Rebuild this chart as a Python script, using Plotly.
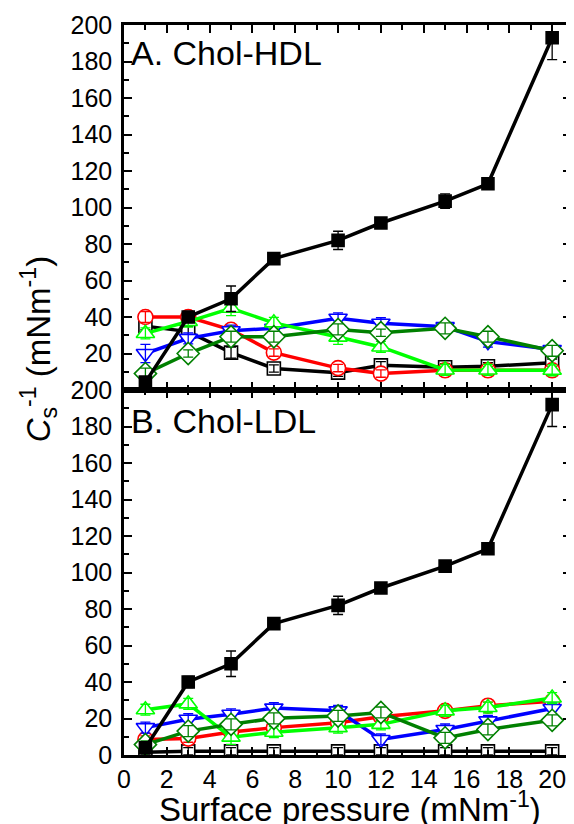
import plotly.graph_objects as go

pressure = [1, 3, 5, 7, 10, 12, 15, 17, 20]
x_ticks = [0, 2, 4, 6, 8, 10, 12, 14, 16, 18, 20]
y_ticks_top = [20, 40, 60, 80, 100, 120, 140, 160, 180, 200]
y_ticks_bottom = [0, 20, 40, 60, 80, 100, 120, 140, 160, 180, 200]

# Panel A: Chol-HDL
hdl_filled = [4.3, 40, 50, 72, 82, 91.5, 103.5, 113, 193]
hdl_filled_err = [2, 3, 7, 3, 5, 2, 4, 2, 12]
hdl_black = [35, 32, 20.5, 11.8, 9.5, 13.5, 12.5, 13, 15]
hdl_black_err = [2, 3, 3, 2, 2, 2, 2, 2, 2]
hdl_red = [40, 40, 33, 20.5, 12, 9, 10.8, 10.8, 10.8]
hdl_red_err = [3, 3, 2, 2, 2, 2, 2, 2, 2]
hdl_lime = [31, 37.5, 44.8, 36.8, 29, 23.6, 11, 11, 10.8]
hdl_lime_err = [3, 3, 4, 3, 4, 3, 3, 3, 3]
hdl_blue = [20, 28.3, 32.5, 33.8, 39.3, 36.6, 34.7, 26.5, 22.2]
hdl_blue_err = [5, 3, 3, 3, 3, 3, 2, 3, 2]
hdl_dkgreen = [9, 20, 29.2, 29.2, 33.2, 31.4, 33.8, 29.2, 21.5]
hdl_dkgreen_err = [3, 2, 3, 3, 3, 2, 3, 3, 3]

# Panel B: Chol-LDL
ldl_filled = [4, 40, 50, 72, 82, 91.5, 103.5, 113, 192]
ldl_filled_err = [2, 3, 7, 2, 5, 1, 3, 1, 12]
ldl_black = [1.5, 2, 2, 2, 2, 2, 2, 2, 2]
ldl_black_err = [1, 2, 2, 2, 2, 2, 2, 2, 2]
ldl_red = [8.5, 9, 12.6, 15, 17.7, 20.9, 24.2, 27, 29.4]
ldl_red_err = [2, 2, 2, 2, 2, 2, 2, 2, 2]
ldl_lime = [24.8, 28, 9.8, 12.5, 15, 16.8, 24.2, 26, 31.2]
ldl_lime_err = [3, 3, 4, 3, 3, 3, 3, 3, 3]
ldl_blue = [15, 19.6, 22.3, 25.7, 24.2, 8.5, 14, 18.7, 25.5]
ldl_blue_err = [3, 3, 3, 3, 3, 3, 3, 3, 3]
ldl_dkgreen = [5.7, 13.1, 16.8, 20.1, 21.4, 23.3, 9.4, 14, 19]
ldl_dkgreen_err = [2, 3, 3, 3, 3, 3, 3, 3, 3]

RED = "#FF0000"
LIME = "#00FF00"
BLUE = "#0000FF"
DKGREEN = "#008000"
BLACK = "#000000"

fig = go.Figure()


def add_series(y, err, color, symbol, size, xa, ya, filled=False):
    fig.add_trace(go.Scatter(
        x=pressure, y=y, mode="lines+markers", xaxis=xa, yaxis=ya,
        line=dict(color=color, width=3.5),
        marker=dict(symbol=symbol, size=size,
                    color=color if filled else "white",
                    line=dict(color=color, width=1.6)),
        showlegend=False, hoverinfo="skip", cliponaxis=True,
    ))
    fig.add_trace(go.Scatter(
        x=pressure, y=y, mode="markers", xaxis=xa, yaxis=ya,
        marker=dict(size=1, opacity=0),
        error_y=dict(type="data", array=err, visible=True, color=color,
                     thickness=1.3, width=5),
        showlegend=False, hoverinfo="skip",
    ))


for xa, ya, d in [
    ("x2", "y2", dict(black=hdl_black, be=hdl_black_err, red=hdl_red, re=hdl_red_err,
                      blue=hdl_blue, bue=hdl_blue_err, lime=hdl_lime, le=hdl_lime_err,
                      dk=hdl_dkgreen, de=hdl_dkgreen_err, f=hdl_filled, fe=hdl_filled_err)),
    ("x", "y", dict(black=ldl_black, be=ldl_black_err, red=ldl_red, re=ldl_red_err,
                    blue=ldl_blue, bue=ldl_blue_err, lime=ldl_lime, le=ldl_lime_err,
                    dk=ldl_dkgreen, de=ldl_dkgreen_err, f=ldl_filled, fe=ldl_filled_err)),
]:
    add_series(d["black"], d["be"], BLACK, "square", 13, xa, ya)
    add_series(d["red"], d["re"], RED, "circle", 15, xa, ya)
    add_series(d["blue"], d["bue"], BLUE, "triangle-down", 16, xa, ya)
    add_series(d["lime"], d["le"], LIME, "triangle-up", 16, xa, ya)
    add_series(d["dk"], d["de"], DKGREEN, "diamond", 17, xa, ya)
    add_series(d["f"], d["fe"], BLACK, "square", 12, xa, ya, filled=True)

FONT = "Liberation Sans, Arial, sans-serif"

axis_common = dict(
    showline=True, linewidth=2.5, linecolor="black", mirror="allticks",
    ticks="inside", ticklen=8, tickwidth=2, tickcolor="black",
    showgrid=False, zeroline=False,
    tickfont=dict(family=FONT, size=25, color="black"),
)
minor_x = dict(ticks="inside", ticklen=5, tickwidth=2, tickcolor="black", dtick=1, tick0=0)
minor_y = dict(ticks="inside", ticklen=5, tickwidth=2, tickcolor="black", dtick=10, tick0=0)

fig.update_layout(
    width=566, height=816,
    margin=dict(l=116, r=0, t=17, b=69),
    paper_bgcolor="white", plot_bgcolor="white",
    font=dict(family=FONT, color="black"),
    xaxis=dict(domain=[0, 1], anchor="y", range=[0, 20.88],
               tickvals=x_ticks, ticktext=[str(v) for v in x_ticks],
               minor=minor_x, **axis_common),
    xaxis2=dict(domain=[0, 1], anchor="y2", range=[0, 20.88], matches="x",
                tickvals=x_ticks, showticklabels=False,
                minor=minor_x, **axis_common),
    yaxis=dict(domain=[0, 0.5], anchor="x", range=[0, 200],
               tickvals=y_ticks_bottom, ticktext=[str(v) for v in y_ticks_bottom],
               ticklabelstandoff=4, minor=minor_y, **axis_common),
    yaxis2=dict(domain=[0.5, 1], anchor="x2", range=[0, 200],
                tickvals=y_ticks_top, ticktext=[str(v) for v in y_ticks_top],
                ticklabelstandoff=4, minor=minor_y, **axis_common),
)

fig.add_annotation(text="A. Chol-HDL", xref="paper", yref="paper",
                   x=0.012, y=0.962, xanchor="left", yanchor="middle",
                   showarrow=False, font=dict(family=FONT, size=34, color="black"))
fig.add_annotation(text="B. Chol-LDL", xref="paper", yref="paper",
                   x=0.012, y=0.458, xanchor="left", yanchor="middle",
                   showarrow=False, font=dict(family=FONT, size=34, color="black"))
fig.add_annotation(text="<i>C</i><sub>s</sub><sup>-1</sup> (mNm<sup>-1</sup>)",
                   xref="paper", yref="paper", x=-0.192, y=0.556,
                   xanchor="center", yanchor="middle", textangle=-90,
                   showarrow=False, font=dict(family=FONT, size=33, color="black"))
fig.add_annotation(text="Surface pressure (mNm<sup>-1</sup>)",
                   xref="paper", yref="paper", x=0.505, y=-0.04,
                   xanchor="center", yanchor="top",
                   showarrow=False, font=dict(family=FONT, size=33, color="black"))

fig.write_html("out.html")
